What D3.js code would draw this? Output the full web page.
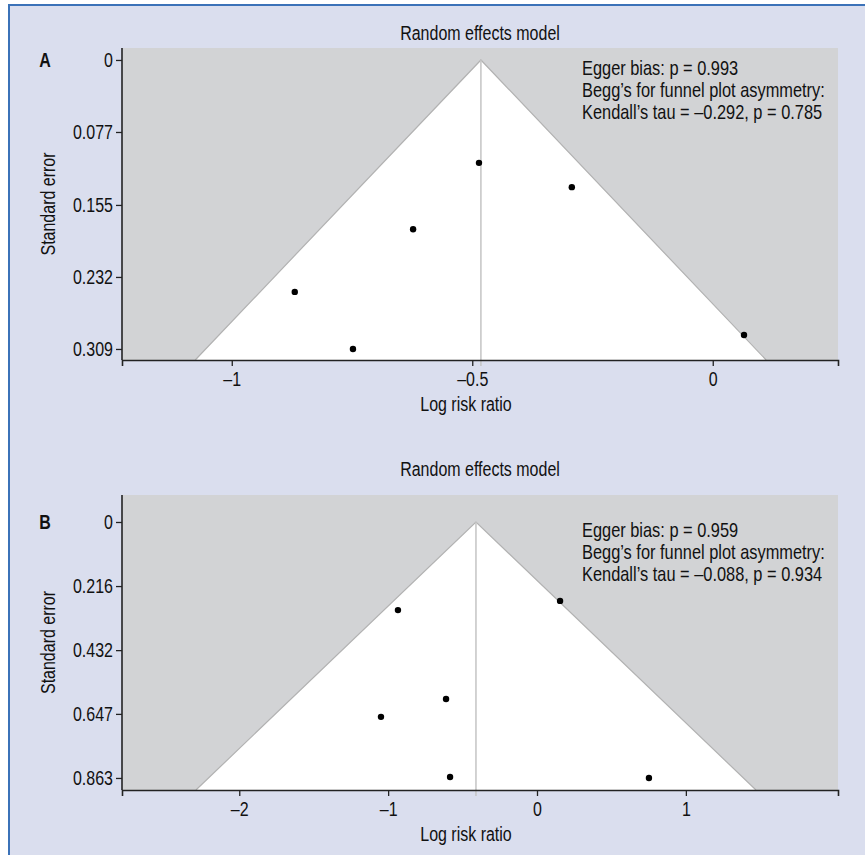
<!DOCTYPE html>
<html>
<head>
<meta charset="utf-8">
<script src="https://cdnjs.cloudflare.com/ajax/libs/d3/7.8.5/d3.min.js"></script>
<style>
  body { margin: 0; background: #fff; }
  text { font-family: "Liberation Sans", Arial, sans-serif; fill: #111; }
</style>
</head>
<body>
<svg id="fig" width="865" height="855"></svg>
<script>
// ---- panel A : log risk ratio vs standard error
var lrrA = [-0.486, -0.293, -0.623, -0.869, -0.748, 0.065];
var seA = [0.110, 0.136, 0.181, 0.248, 0.309, 0.294];
var pooledA = -0.482;
var funnelA = [-1.076, 0.111];          // funnel limits at the bottom of the axis
var seTicksA = [0, 0.077, 0.155, 0.232, 0.309];
var lrrTicksA = [-1, -0.5, 0];
var statsA = ["Egger bias: p = 0.993",
              "Begg\u2019s for funnel plot asymmetry:",
              "Kendall\u2019s tau = \u20130.292, p = 0.785"];

// ---- panel B
var lrrB = [-0.934, 0.155, -0.611, -1.048, -0.584, 0.752];
var seB = [0.297, 0.266, 0.597, 0.657, 0.860, 0.863];
var pooledB = -0.410;
var funnelB = [-2.291, 1.471];
var seTicksB = [0, 0.216, 0.432, 0.647, 0.863];
var lrrTicksB = [-2, -1, 0, 1];
var statsB = ["Egger bias: p = 0.959",
              "Begg\u2019s for funnel plot asymmetry:",
              "Kendall\u2019s tau = \u20130.088, p = 0.934"];

var SX = 0.82;   // condensed look, no narrow font installed
var FS = 19.5;

var svg = d3.select("#fig");

// figure frame
svg.append("rect").attr("x", 9).attr("y", 5).attr("width", 870).attr("height", 860)
  .attr("fill", "#dadeee");
svg.append("path").attr("d", "M9,860V5H870").attr("fill", "none")
  .attr("stroke", "#3b72b8").attr("stroke-width", 2);

var dash = function(d) { return d < 0 ? "\u2013" + Math.abs(d) : String(d); };

function label(g, x, y, s, anchor, size) {
  return g.append("text")
    .attr("transform", "translate(" + x + "," + y + ") scale(" + SX + ",1)")
    .attr("text-anchor", anchor).attr("font-size", size).text(s);
}

function panel(o) {
  var x = d3.scaleLinear().domain(o.xDom).range([122, 838]);
  var y = d3.scaleLinear().domain(o.yDom).range([o.top, o.bottom]);
  var g = svg.append("g");
  var seMax = o.yDom[1];

  g.append("rect").attr("x", 122).attr("y", o.top)
    .attr("width", 838 - 122).attr("height", o.bottom - o.top)
    .attr("fill", "#d2d3d5");

  var tri = [[o.pooled, 0], [o.funnel[0], seMax], [o.funnel[1], seMax]];
  g.append("polygon")
    .attr("points", tri.map(function(p) { return x(p[0]) + "," + y(p[1]); }).join(" "))
    .attr("fill", "#fff");
  g.append("path")
    .attr("d", d3.line().x(function(p) { return x(p[0]); }).y(function(p) { return y(p[1]); })([tri[1], tri[0], tri[2]]))
    .attr("fill", "none").attr("stroke", "#b2b2b2").attr("stroke-width", 1.2);

  g.append("line")
    .attr("x1", x(o.pooled)).attr("x2", x(o.pooled))
    .attr("y1", y(0)).attr("y2", o.bottom + 6)
    .attr("stroke", "#c4c4c4").attr("stroke-width", 1.5);

  g.selectAll("circle.pt").data(o.lrr).enter().append("circle")
    .attr("cx", function(d) { return x(d); })
    .attr("cy", function(d, i) { return y(o.se[i]); })
    .attr("r", 3.2).attr("fill", "#000");

  var ya = g.append("g").attr("transform", "translate(122,0)")
    .call(d3.axisLeft(y).tickValues(o.yTicks).tickSizeOuter(0).tickSize(6).tickPadding(3)
      .tickFormat(function(d) { return d === 0 ? "0" : d3.format(".3f")(d); }));
  var xa = g.append("g").attr("transform", "translate(0," + o.bottom + ")")
    .call(d3.axisBottom(x).tickValues(o.xTicks).tickSizeOuter(0).tickSize(6).tickPadding(6)
      .tickFormat(dash));
  [ya, xa].forEach(function(a) {
    a.select(".domain").attr("stroke", "#222").attr("stroke-width", 1.6);
    a.selectAll(".tick line").attr("stroke", "#222").attr("stroke-width", 1.3);
    a.selectAll("text").attr("font-size", FS).attr("fill", "#111")
      .style("font-family", "'Liberation Sans',Arial,sans-serif")
      .each(function() {
        var t = d3.select(this);
        t.attr("transform", "translate(" + (+t.attr("x") || 0) + "," + (+t.attr("y") || 0) + ") scale(" + SX + ",1)")
          .attr("x", 0).attr("y", 0);
      });
  });
  ya.select(".domain").attr("d", "M0," + o.top + "V" + o.bottom);

  label(g, 480, o.titleY, "Random effects model", "middle", FS);
  label(g, 45, y(0) + 7, o.label, "middle", FS).attr("font-weight", "bold");
  label(g, 466, o.bottom + 51, "Log risk ratio", "middle", FS);
  g.append("text")
    .attr("transform", "translate(55," + ((o.top + o.bottom) / 2) + ") rotate(-90) scale(" + SX + ",1)")
    .attr("text-anchor", "middle").attr("font-size", FS).text("Standard error");

  o.stats.forEach(function(s, i) {
    label(g, 582, y(0) + 15 + i * 22, s, "start", 20);
  });
}

panel({ label: "A", lrr: lrrA, se: seA, pooled: pooledA, funnel: funnelA,
        yTicks: seTicksA, xTicks: lrrTicksA, stats: statsA,
        xDom: [-1.2282, 0.2604], yDom: [-0.0128, 0.3208], top: 48, bottom: 360, titleY: 40 });
panel({ label: "B", lrr: lrrB, se: seB, pooled: pooledB, funnel: funnelB,
        yTicks: seTicksB, xTicks: lrrTicksB, stats: statsB,
        xDom: [-2.7877, 2.0219], yDom: [-0.0910, 0.9036], top: 495, bottom: 790, titleY: 476 });
</script>
</body>
</html>
